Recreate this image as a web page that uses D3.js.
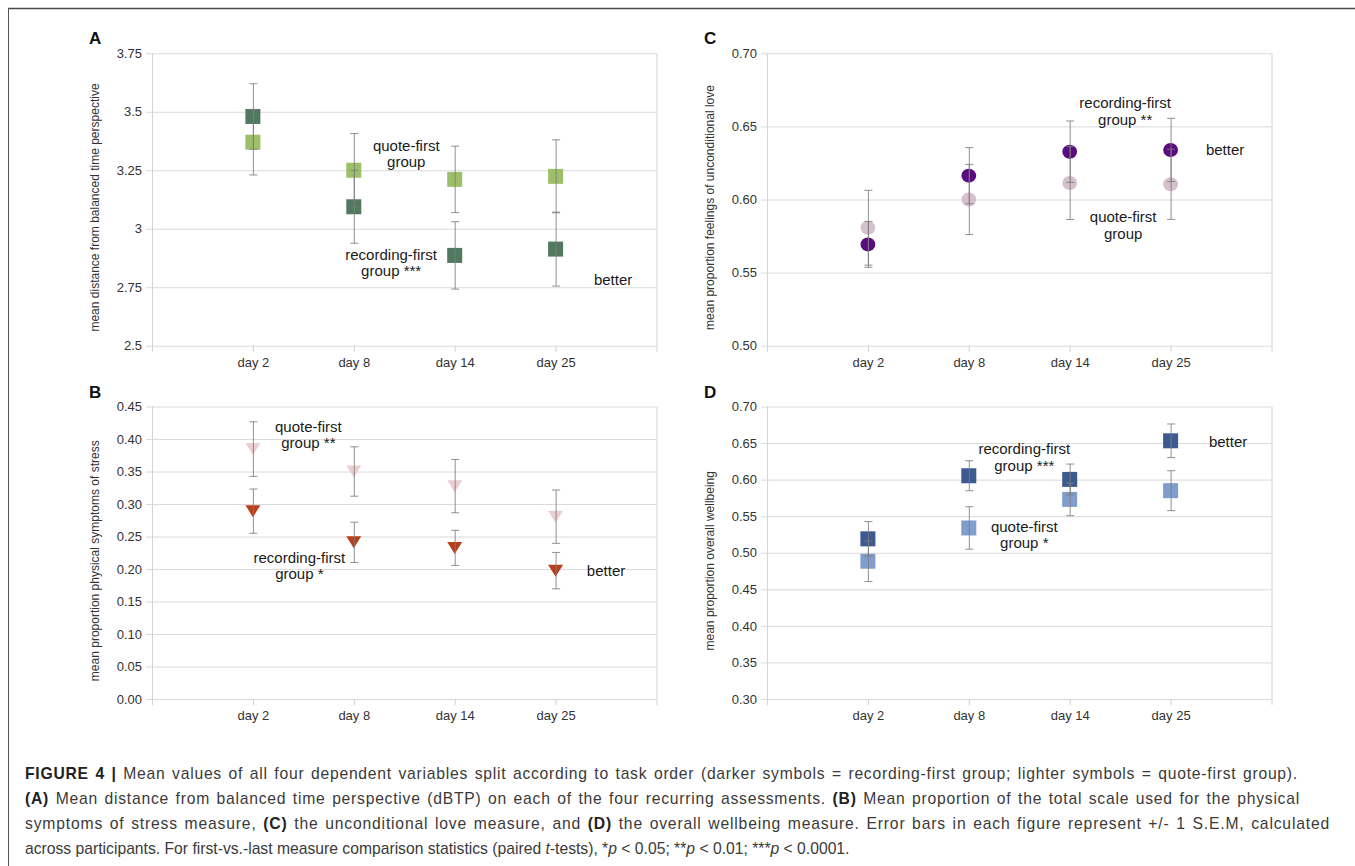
<!DOCTYPE html>
<html>
<head>
<meta charset="utf-8">
<script src="https://cdn.jsdelivr.net/npm/d3@7"></script>
<style>
  body { margin: 0; background: #fff; }
  svg { display: block; }
  text { font-family: "Liberation Sans", Arial, Helvetica, sans-serif; }
</style>
</head>
<body>
<svg id="fig" width="1355" height="866"></svg>
<script>
const days = ["day 2", "day 8", "day 14", "day 25"];

// A: distance from balanced time perspective
const dbtpRecording = [3.48, 3.094, 2.886, 2.913];
const dbtpRecordingErr = [0.14, 0.156, 0.144, 0.158];
const dbtpQuote = [3.37, 3.25, 3.211, 3.224];
const dbtpQuoteErr = [0.14, 0.157, 0.142, 0.156];
const dbtpTicks = [2.5, 2.75, 3, 3.25, 3.5, 3.75];

// B: physical symptoms of stress
const stressRecording = [0.289, 0.241, 0.2325, 0.1975];
const stressRecordingErr = [0.034, 0.031, 0.027, 0.028];
const stressQuote = [0.3845, 0.350, 0.3275, 0.2805];
const stressQuoteErr = [0.042, 0.038, 0.041, 0.041];
const stressTicks = [0, 0.05, 0.1, 0.15, 0.2, 0.25, 0.3, 0.35, 0.4, 0.45];

// C: feelings of unconditional love
const loveRecording = [0.5693, 0.6163, 0.6327, 0.6339];
const loveRecordingErr = [0.0157, 0.0192, 0.021, 0.0216];
const loveQuote = [0.5807, 0.600, 0.6113, 0.6104];
const loveQuoteErr = [0.0256, 0.024, 0.025, 0.024];
const loveTicks = [0.5, 0.55, 0.6, 0.65, 0.7];

// D: overall wellbeing
const wellRecording = [0.519, 0.6053, 0.6003, 0.6531];
const wellRecordingErr = [0.0236, 0.0205, 0.021, 0.023];
const wellQuote = [0.4884, 0.5339, 0.573, 0.5849];
const wellQuoteErr = [0.0278, 0.029, 0.0223, 0.0273];
const wellTicks = [0.3, 0.35, 0.4, 0.45, 0.5, 0.55, 0.6, 0.65, 0.7];

// annotation labels: [lines, x (category units), y (data units)]
const notesA = [[["quote-first", "group"], 2.52, 3.354], [["recording-first", "group ***"], 2.37, 2.889], [["better"], 4.57, 2.781]];
const notesB = [[["quote-first", "group **"], 1.55, 0.419], [["recording-first", "group *"], 1.46, 0.217], [["better"], 4.5, 0.197]];
const notesC = [[["recording-first", "group **"], 3.55, 0.666], [["better"], 4.54, 0.634], [["quote-first", "group"], 3.53, 0.588]];
const notesD = [[["recording-first", "group ***"], 2.55, 0.6415], [["better"], 4.57, 0.652], [["quote-first", "group *"], 2.55, 0.5356]];

const svg = d3.select("#fig");

// frame
svg.append("line").attr("x1", 8).attr("x2", 1355).attr("y1", 8.5).attr("y2", 8.5)
  .attr("stroke", "#4a4a4a").attr("stroke-width", 1.6);
svg.append("line").attr("x1", 8.5).attr("x2", 8.5).attr("y1", 8).attr("y2", 866)
  .attr("stroke", "#555").attr("stroke-width", 1);

const fmt2 = d3.format(".2f");
const panels = [
  { letter: "A", left: 152, top: 53.3, bottom: 345.7, ticks: dbtpTicks, fmt: d => String(d),
    title: "mean distance from balanced time perspective", shape: "square",
    dark: dbtpRecording, darkErr: dbtpRecordingErr, light: dbtpQuote, lightErr: dbtpQuoteErr,
    darkColor: "#51795f", lightColor: "#9cbf68", notes: notesA },
  { letter: "B", left: 152, top: 406.5, bottom: 699, ticks: stressTicks, fmt: fmt2,
    title: "mean proportion physical symptoms of stress", shape: "triangle",
    dark: stressRecording, darkErr: stressRecordingErr, light: stressQuote, lightErr: stressQuoteErr,
    darkColor: "#b83f1c", lightColor: "#ebcfd0", notes: notesB },
  { letter: "C", left: 767, top: 53.3, bottom: 345.7, ticks: loveTicks, fmt: fmt2,
    title: "mean proportion feelings of unconditional love", shape: "circle",
    dark: loveRecording, darkErr: loveRecordingErr, light: loveQuote, lightErr: loveQuoteErr,
    darkColor: "#5a0b80", lightColor: "#d5c1ce", notes: notesC },
  { letter: "D", left: 767, top: 406.5, bottom: 699, ticks: wellTicks, fmt: fmt2,
    title: "mean proportion overall wellbeing", shape: "square",
    dark: wellRecording, darkErr: wellRecordingErr, light: wellQuote, lightErr: wellQuoteErr,
    darkColor: "#3d5a91", lightColor: "#809dcd", notes: notesD }
];

const plotW = 504.5;

panels.forEach(p => {
  const h = p.bottom - p.top;
  const g = svg.append("g").attr("transform", `translate(${p.left},${p.top})`);
  const x = d3.scaleLinear().domain([0, days.length + 1]).range([0, plotW]);
  const y = d3.scaleLinear().domain(d3.extent(p.ticks)).range([h, 0]);

  // gridlines + y labels
  const ya = g.append("g")
    .call(d3.axisLeft(y).tickValues(p.ticks).tickFormat(p.fmt).tickSize(-plotW).tickPadding(10));
  ya.select(".domain").remove();
  ya.selectAll(".tick line").attr("x1", -6).attr("stroke", "#dadada");
  ya.selectAll(".tick text").attr("fill", "#333").style("font-size", "13px");

  // category axis
  const xa = g.append("g").attr("transform", `translate(0,${h})`)
    .call(d3.axisBottom(x).tickValues(d3.range(1, days.length + 1))
      .tickFormat(i => days[i - 1]).tickSize(6).tickPadding(6));
  xa.select(".domain").remove();
  xa.selectAll(".tick line").attr("stroke", "#cfcfcf");
  xa.selectAll(".tick text").attr("fill", "#333").style("font-size", "13px");

  // plot edges
  [0, days.length + 1].forEach(v => {
    g.append("line").attr("x1", x(v) + 0.5).attr("x2", x(v) + 0.5).attr("y1", 0).attr("y2", h + 6)
      .attr("stroke", "#d4d4d4");
  });

  // markers
  const series = [
    { vals: p.light, err: p.lightErr, color: p.lightColor },
    { vals: p.dark, err: p.darkErr, color: p.darkColor }
  ];
  series.forEach(s => {
    const m = g.append("g");
    s.vals.forEach((v, i) => {
      const cx = x(i + 1), cy = y(v);
      if (p.shape === "square") {
        m.append("rect").attr("x", cx - 7.5).attr("y", cy - 7.5).attr("width", 15).attr("height", 15)
          .attr("fill", s.color);
      } else if (p.shape === "circle") {
        m.append("ellipse").attr("cx", cx).attr("cy", cy).attr("rx", 7.4).attr("ry", 7)
          .attr("fill", s.color);
      } else {
        m.append("path").attr("d", `M${cx - 7.5},${cy - 6}L${cx + 7.5},${cy - 6}L${cx},${cy + 6}Z`)
          .attr("fill", s.color);
      }
    });
  });

  // error bars over markers
  series.forEach(s => {
    const e = g.append("g").attr("stroke", "#7c7c7c").attr("stroke-opacity", 0.85).attr("stroke-width", 1);
    s.vals.forEach((v, i) => {
      const cx = x(i + 1) + 0.5;
      const y0 = y(v - s.err[i]), y1 = y(v + s.err[i]);
      e.append("line").attr("x1", cx).attr("x2", cx).attr("y1", y0).attr("y2", y1);
      e.append("line").attr("x1", cx - 4).attr("x2", cx + 4).attr("y1", y0).attr("y2", y0);
      e.append("line").attr("x1", cx - 4).attr("x2", cx + 4).attr("y1", y1).attr("y2", y1);
    });
  });

  // annotations
  p.notes.forEach(([lines, nx, ny]) => {
    const t = g.append("text").attr("text-anchor", "middle").attr("fill", "#1a1a1a")
      .style("font-size", "15px");
    lines.forEach((ln, k) => {
      t.append("tspan").attr("x", x(nx)).attr("y", y(ny) + 5 + k * 16.5).text(ln);
    });
  });

  // axis title
  svg.append("text")
    .attr("transform", `translate(${p.left - 53},${(p.top + p.bottom) / 2 + 8}) rotate(-90)`)
    .attr("text-anchor", "middle").attr("fill", "#333").style("font-size", "12px")
    .text(p.title);

  // panel letter
  svg.append("text").attr("x", p.left - 63).attr("y", p.top - 9)
    .attr("fill", "#111").style("font-size", "17px").style("font-weight", "bold")
    .text(p.letter);
});

// caption (justified lines, last line left as is)
const captionLines = [
  [["FIGURE 4 | ", "b"], ["Mean values of all four dependent variables split according to task order (darker symbols = recording-first group; lighter symbols = quote-first group).", ""]],
  [["(A)", "b"], [" Mean distance from balanced time perspective (dBTP) on each of the four recurring assessments. ", ""], ["(B)", "b"], [" Mean proportion of the total scale used for the physical", ""]],
  [["symptoms of stress measure, ", ""], ["(C)", "b"], [" the unconditional love measure, and ", ""], ["(D)", "b"], [" the overall wellbeing measure. Error bars in each figure represent +/- 1 S.E.M, calculated", ""]],
  [["across participants. For first-vs.-last measure comparison statistics (paired ", ""], ["t", "i"], ["-tests), *", ""], ["p", "i"], [" < 0.05; **", ""], ["p", "i"], [" < 0.01; ***", ""], ["p", "i"], [" < 0.0001.", ""]]
];
const captionEnds = [1298, 1300, 1330, null];
captionLines.forEach((parts, li) => {
  const t = svg.append("text").attr("x", 25).attr("y", 779 + li * 25)
    .attr("fill", "#3a3a3a").style("font-size", "15.7px");
  parts.forEach(([str, st]) => {
    const ts = t.append("tspan").text(str);
    if (st === "b") ts.style("font-weight", "bold").attr("fill", "#222");
    if (st === "i") ts.style("font-style", "italic");
  });
  if (captionEnds[li]) {
    const full = parts.map(d => d[0]).join("");
    const gaps = (full.match(/ /g) || []).length;
    const natural = t.node().getComputedTextLength();
    const extra = captionEnds[li] - 25 - natural;
    const ws = 1.5;
    const ls = (extra - ws * gaps) / full.length;
    t.attr("word-spacing", ws).attr("letter-spacing", ls.toFixed(3));
  }
});
</script>
</body>
</html>
